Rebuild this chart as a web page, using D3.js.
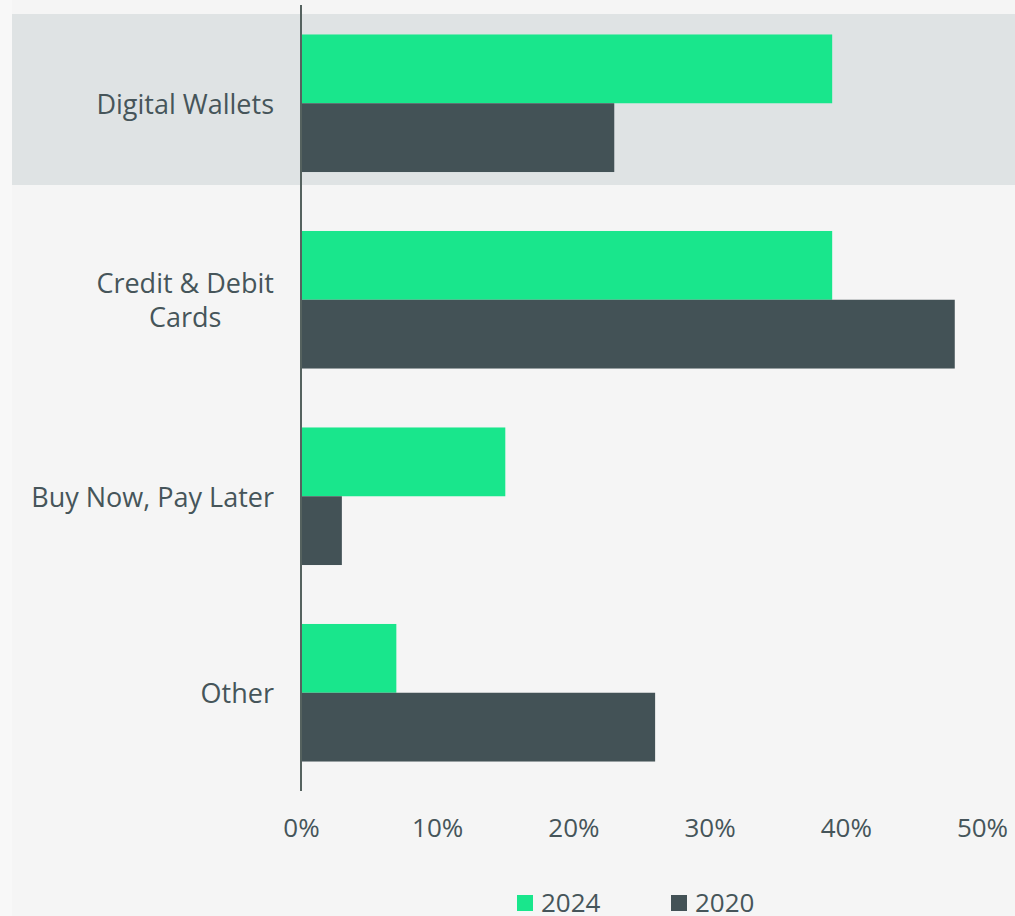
<!DOCTYPE html>
<html><head><meta charset="utf-8">
<script src="https://cdn.jsdelivr.net/npm/d3@7"></script>
<style>
html,body{margin:0;padding:0;background:#f8f8f8;}
svg{display:block;}
text{font-family:"Open Sans",Lato,sans-serif;fill:#46555a;}
</style></head>
<body>
<svg id="chart" width="1015" height="916"></svg>
<script>
const categories = ["Digital Wallets", "Credit & Debit Cards", "Buy Now, Pay Later", "Other"];
const labelLines = [["Digital Wallets"], ["Credit & Debit", "Cards"], ["Buy Now, Pay Later"], ["Other"]];
const seriesNames = ["2024", "2020"];
const values2024 = [0.39, 0.39, 0.15, 0.07];
const values2020 = [0.23, 0.48, 0.03, 0.26];
const tickValues = [0, 0.1, 0.2, 0.3, 0.4, 0.5];
const highlighted = "Digital Wallets";

const colors = {"2024": "#19e68c", "2020": "#435256"};
const svg = d3.select("#chart");
const W = 1015, H = 916;

svg.append("rect").attr("x", 12).attr("y", 0).attr("width", W - 12).attr("height", H).attr("fill", "#f5f5f5");

const x = d3.scaleLinear().domain([0, 0.5]).range([301, 982]);
const y = d3.scaleBand().domain(categories).range([5, 791]).paddingInner(0.3).paddingOuter(0.15);
const ySub = d3.scaleBand().domain(seriesNames).range([0, y.bandwidth()]);

// highlight band
svg.append("rect")
  .attr("x", 12).attr("width", W - 12)
  .attr("y", y(highlighted) - 20.5)
  .attr("height", y.bandwidth() + 33.5)
  .attr("fill", "#dfe3e4");

const data = categories.map((c, i) => ({cat: c, lines: labelLines[i], vals: [
  {s: "2024", v: values2024[i]}, {s: "2020", v: values2020[i]}]}));

const groups = svg.selectAll("g.grp").data(data).join("g").attr("class", "grp")
  .attr("transform", d => `translate(0,${y(d.cat)})`);

groups.selectAll("rect").data(d => d.vals).join("rect")
  .attr("x", x(0))
  .attr("y", d => ySub(d.s))
  .attr("width", d => x(d.v) - x(0))
  .attr("height", ySub.bandwidth())
  .attr("fill", d => colors[d.s]);

// category labels
groups.each(function(d) {
  const g = d3.select(this);
  const lh = 34;
  const n = d.lines.length;
  const cy = y.bandwidth() / 2 + 1;
  const t = g.append("text").attr("font-size", 27).attr("text-anchor", "middle");
  const spans = d.lines.map((ln, k) => t.append("tspan").text(ln)
    .attr("y", cy + (k - (n - 1) / 2) * lh).attr("dy", "0.35em"));
  let maxW = 0;
  spans.forEach(s => { maxW = Math.max(maxW, s.node().getComputedTextLength()); });
  spans.forEach(s => s.attr("x", 274 - maxW / 2));
});

// axis line
svg.append("line").attr("x1", x(0)).attr("x2", x(0)).attr("y1", 5).attr("y2", 791)
  .attr("stroke", "#55625f").attr("stroke-width", 2);

// x axis ticks
const xAxis = d3.axisBottom(x).tickValues(tickValues).tickFormat(d3.format(".0%")).tickSize(0).tickPadding(0);
const ax = svg.append("g").attr("transform", "translate(0,819)").call(xAxis);
ax.select(".domain").remove();
ax.selectAll("text").attr("font-size", 26).style("font-family", "'Open Sans', sans-serif").attr("fill", "#46555a").attr("dy", "0.71em");

// legend
const legX = [517, 671];
const leg = svg.selectAll("g.leg").data(seriesNames).join("g").attr("class", "leg")
  .attr("transform", (d, i) => `translate(${legX[i]},895)`);
leg.append("rect").attr("width", 16).attr("height", 16).attr("fill", d => colors[d]);
leg.append("text").attr("x", 24).attr("y", 17).attr("font-size", 26).text(d => d);
</script>
</body></html>
